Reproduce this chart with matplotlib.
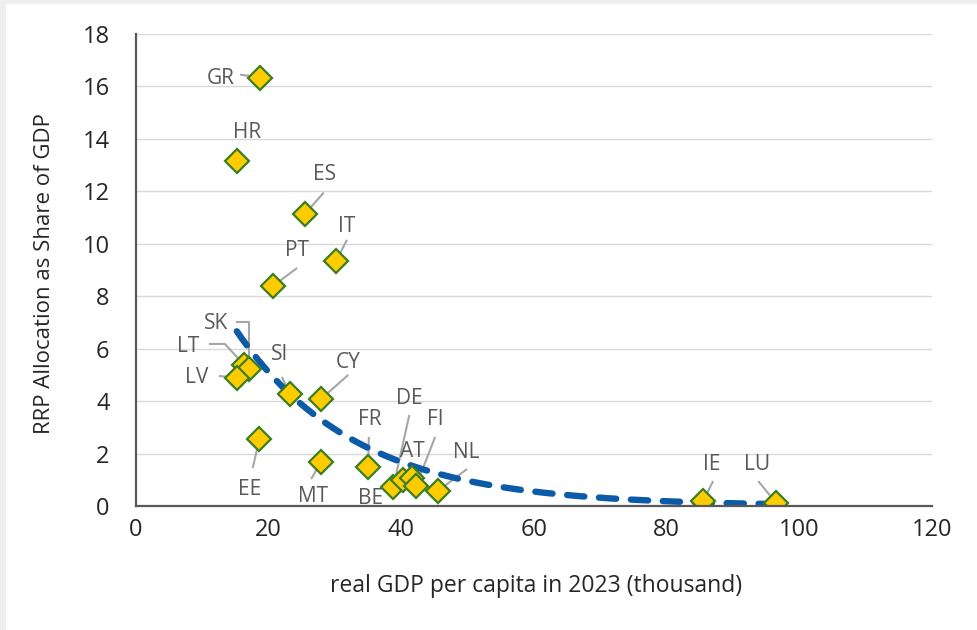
import numpy as np
import matplotlib
matplotlib.use("Agg")
import matplotlib.pyplot as plt
from matplotlib.patches import Rectangle

# ---- data -------------------------------------------------------------
countries = ["GR", "HR", "ES", "IT", "PT", "LT", "SK", "LV", "SI", "CY",
             "EE", "MT", "FR", "DE", "BE", "AT", "FI", "NL", "IE", "LU"]
gdp_per_capita = [18.7, 15.2, 25.5, 30.2, 20.7, 16.3, 17.0, 15.2, 23.2, 27.9,
                  18.6, 27.9, 35.0, 38.8, 40.3, 41.6, 42.2, 45.5, 85.5, 96.5]
rrp_share = [16.34, 13.17, 11.15, 9.35, 8.40, 5.38, 5.23, 4.89, 4.27, 4.08,
             2.56, 1.68, 1.49, 0.73, 0.99, 1.07, 0.76, 0.57, 0.19, 0.12]

x_ticks = [0, 20, 40, 60, 80, 100, 120]
y_ticks = [0, 2, 4, 6, 8, 10, 12, 14, 16, 18]

# ---- label layout: text anchor and leader-line points (data units) ----
label_layout = {
    "GR": ((12.8, 16.30), [(15.7, 16.45)]),
    "HR": ((16.7, 14.24), []),
    "ES": ((28.5, 12.64), [(28.3, 11.95)]),
    "IT": ((31.7, 10.66), [(31.8, 10.15)]),
    "PT": ((24.3, 9.74), [(24.3, 9.08)]),
    "SK": ((12.1, 6.95), [(15.1, 7.02), (17.0, 7.02)]),
    "LT": ((7.8, 6.08), [(11.0, 6.18), (13.4, 6.18)]),
    "LV": ((9.2, 4.89), [(12.5, 4.96)]),
    "SI": ((21.7, 5.77), [(22.0, 4.92)]),
    "CY": ((32.0, 5.46), [(32.0, 5.00)]),
    "EE": ((17.2, 0.62), [(17.6, 1.45)]),
    "MT": ((26.7, 0.35), [(26.4, 1.03)]),
    "FR": ((35.3, 3.29), [(35.1, 2.63)]),
    "DE": ((41.2, 4.09), [(41.2, 3.47)]),
    "BE": ((35.4, 0.27), []),
    "AT": ((41.6, 2.07), []),
    "FI": ((45.1, 3.29), [(45.1, 2.63)]),
    "NL": ((49.8, 2.03), [(49.9, 1.41)]),
    "IE": ((86.8, 1.57), [(87.0, 0.95)]),
    "LU": ((93.6, 1.57), [(93.8, 0.95)]),
}

# ---- styling -----------------------------------------------------------
plt.rcParams["font.family"] = ["Open Sans", "DejaVu Sans"]
text_grey = "#595959"
axis_dark = "#595959"

W, H = 978, 630
fig = plt.figure(figsize=(W / 100, H / 100), dpi=100, facecolor="#efefef")
fig.patches.append(Rectangle((6 / W, 0), 1, 1 - 4 / H, transform=fig.transFigure,
                             facecolor="white", edgecolor="none", zorder=-10))

ax = fig.add_axes([136 / W, (H - 506) / H, (932 - 136) / W, (506 - 34) / H])
ax.set_zorder(1)
ax.set_facecolor("white")
ax.set_xlim(x_ticks[0], x_ticks[-1])
ax.set_ylim(y_ticks[0], y_ticks[-1])
ax.set_xticks(x_ticks)
ax.set_yticks(y_ticks)
ax.grid(axis="y", color="#d9d9d9", linewidth=1.0, zorder=0)
ax.set_axisbelow(True)
for side in ("top", "right"):
    ax.spines[side].set_visible(False)
for side in ("left", "bottom"):
    ax.spines[side].set_color(axis_dark)
    ax.spines[side].set_linewidth(1.6)
    ax.spines[side].set_zorder(5)

ax.tick_params(axis="both", length=0)
ax.tick_params(axis="y", pad=19, labelsize=17, labelcolor="#262626")
ax.tick_params(axis="x", pad=9, labelsize=17, labelcolor="#262626")

x = np.asarray(gdp_per_capita)
y = np.asarray(rrp_share)

# exponential trend: ln(y) = ln(a) + b*x
b, ln_a = np.polyfit(x, np.log(y), 1)
xs = np.linspace(x.min(), x.max(), 300)
ax.plot(xs, np.exp(ln_a) * np.exp(b * xs), color="#0b5ba8", linewidth=4.6,
        dashes=(2.7, 2.3), dash_capstyle="round", zorder=3)

# leader lines and labels
xy_by_country = dict(zip(countries, zip(x, y)))
for name in countries:
    (tx, ty), pts = label_layout[name]
    if pts:
        path = pts + [xy_by_country[name]]
        ax.plot([p[0] for p in path], [p[1] for p in path], color="#a6a6a6",
                linewidth=1.5, zorder=2, solid_capstyle="butt")
    ax.text(tx, ty, name, ha="center", va="center", fontsize=15,
            color=text_grey, zorder=6)

ax.plot(x, y, linestyle="none", marker="D", markersize=12.5,
        markerfacecolor="#ffcc00", markeredgecolor="#3b7d23",
        markeredgewidth=1.6, zorder=4)

fig.text(536 / W, 1 - 586 / H, "real GDP per capita in 2023 (thousand)",
         ha="center", va="center", fontsize=16.5, color="#262626")
fig.text(45 / W, 1 - 274 / H, "RRP Allocation as Share of GDP", rotation=90,
         ha="center", va="center", fontsize=16, color="#262626")

fig.savefig("out.png", dpi=100, facecolor=fig.get_facecolor())
